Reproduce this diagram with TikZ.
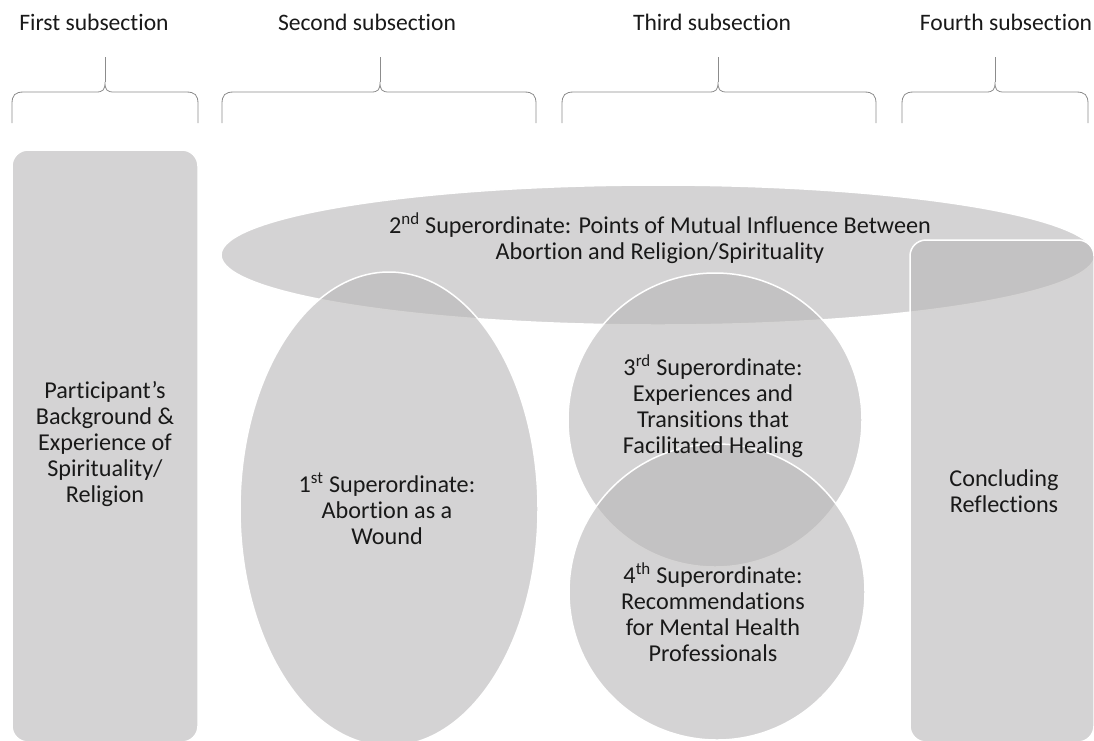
\documentclass[tikz,border=0pt]{standalone}
\usepackage{fontspec}
\setmainfont{Carlito}[Ligatures=NoCommon]
\usepackage{tikz}
\usetikzlibrary{shapes.geometric}
\definecolor{shadegray}{RGB}{184,182,183}
\definecolor{bracegray}{RGB}{140,140,140}
\definecolor{inkgray}{RGB}{25,25,25}

\begin{document}
\begin{tikzpicture}[x=1pt, y=-1pt, font=\fontsize{24.2}{26}\selectfont,
    blob/.style={fill=shadegray, fill opacity=0.6, draw=white, line width=1.5pt, inner sep=0pt},
    box/.style={blob, rounded corners=16pt},
    caption/.style={align=center, text=inkgray}]
    \useasboundingbox (0,0) rectangle (1094,740);
    % headings with their braces
    \foreach \a/\m/\b/\h/\lbl [count=\i] in {12/105/198/94/First, 222/380/536/367/Second, 562/718/876/712/Third, 902/995/1088/1006/Fourth}{
        \node[text=inkgray, font=\fontsize{23.6}{26}\selectfont] (head\i) at (\h,22) {\lbl{} subsection};
        \coordinate (tip\i) at (\m,57);
        \draw[bracegray, line width=0.8pt] (\a,123) -- (\a,104) .. controls (\a,95) and (\a+3,92) .. (\a+12,92) -- (\m-9,92) .. controls (\m-2,92) and (\m,90) .. (\m,82) .. controls (\m,90) and (\m+2,92) .. (\m+9,92) -- (\b-12,92) .. controls (\b-3,92) and (\b,95) .. (\b,104) -- (\b,123);
        \draw[bracegray, line width=0.8pt] (\m,82) -- (tip\i);
    }
    % shapes
    \node[box, minimum width=186pt, minimum height=592pt] (background) at (105,446) {};
    \node[blob, ellipse, minimum width=874pt, minimum height=140pt] (mutual) at (658,255) {};
    \node[blob, ellipse, minimum width=298pt, minimum height=474pt] (wound) at (389,509) {};
    \node[blob, circle, minimum size=294pt] (healing) at (715,420) {};
    \node[blob, circle, minimum size=296pt] (advice) at (717,592) {};
    \node[box, minimum width=184pt, minimum height=502pt] (closing) at (1002,491) {};
    % texts
    \node[caption] (t-background) at (105,444) {Participant’s\\Background \&\\Experience of\\Spirituality/\\Religion};
    \node[caption] (t-mutual) at (660,238) {2\textsuperscript{nd} Superordinate: Points of Mutual Influence Between\\Abortion and Religion/Spirituality};
    \node[caption] (t-wound) at (387,509) {1\textsuperscript{st} Superordinate:\\Abortion as a\\Wound};
    \node[caption] (t-healing) at (713,406) {3\textsuperscript{rd} Superordinate:\\Experiences and\\Transitions that\\Facilitated Healing};
    \node[caption] (t-advice) at (713,612) {4\textsuperscript{th} Superordinate:\\Recommendations\\for Mental Health\\Professionals};
    \node[caption] (t-closing) at (1004,491) {Concluding\\Reflections};
\end{tikzpicture}
\end{document}
